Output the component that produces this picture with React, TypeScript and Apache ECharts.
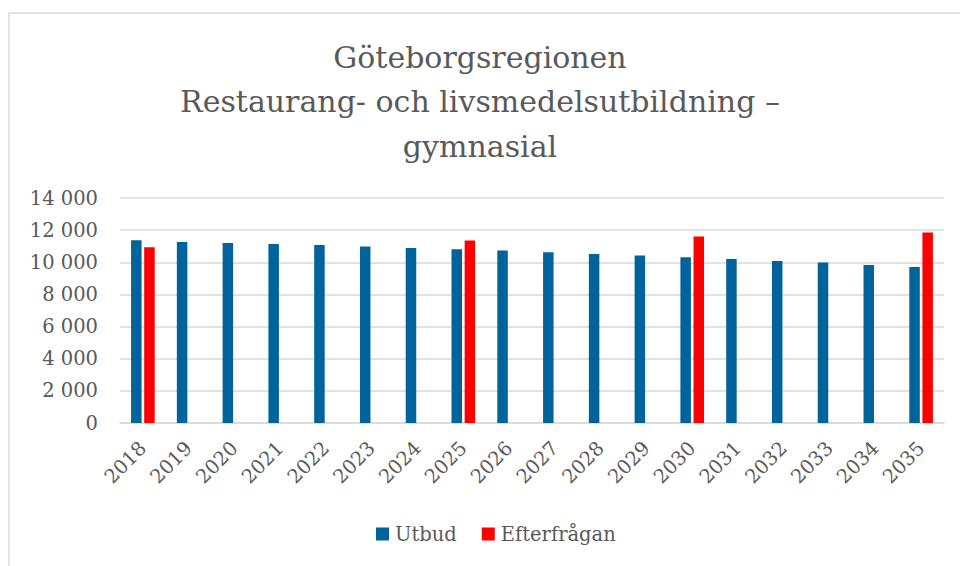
import React, { useEffect, useRef } from "react";
import * as echarts from "echarts";

const categories = ["2018","2019","2020","2021","2022","2023","2024","2025","2026","2027","2028","2029","2030","2031","2032","2033","2034","2035"];
const utbud = [11370,11260,11200,11140,11070,10990,10890,10810,10730,10620,10520,10420,10310,10200,10080,9980,9830,9710];
const efterfragan = [10930,null,null,null,null,null,null,11350,null,null,null,null,11610,null,null,null,null,11860];
const titleLines = ["Göteborgsregionen", "Restaurang- och livsmedelsutbildning –", "gymnasial"];

const FONT = "DejaVu Serif";

export default function App() {
  const ref = useRef<HTMLDivElement>(null);
  useEffect(() => {
    if (!ref.current) return;
    const chart = echarts.init(ref.current, undefined, { renderer: "svg" });
    chart.setOption({
      animation: false,
      backgroundColor: "#ffffff",
      graphic: [
        { type: "rect", shape: { x: 9, y: 13, width: 1000, height: 1000 }, style: { fill: "none", stroke: "#d9d9d9", lineWidth: 1.5 }, silent: true },
      ],
      title: {
        text: titleLines.join("\n"),
        left: "center",
        top: 30,
        textStyle: { fontFamily: FONT, fontSize: 30, fontWeight: "normal", color: "#595959", lineHeight: 44.5 },
      },
      legend: {
        bottom: 17,
        left: 371,
        itemWidth: 13,
        itemHeight: 13,
        itemGap: 25,
        icon: "rect",
        textStyle: { fontFamily: FONT, fontSize: 19.5, color: "#595959", padding: [0, 0, 0, 1] },
        data: ["Utbud", "Efterfrågan"],
      },
      grid: { left: 120, right: 16, top: 198, bottom: 143, containLabel: false },
      xAxis: {
        type: "category",
        data: categories,
        axisLine: { lineStyle: { color: "#d9d9d9", width: 1.5 } },
        axisTick: { show: false },
        axisLabel: { rotate: 45, fontFamily: FONT, fontSize: 19.5, color: "#595959", margin: 22, interval: 0 },
      },
      yAxis: {
        type: "value",
        min: 0,
        max: 14000,
        interval: 2000,
        axisLine: { show: false },
        axisTick: { show: false },
        splitLine: { lineStyle: { color: "#d9d9d9", width: 1.5 } },
        axisLabel: {
          fontFamily: FONT,
          fontSize: 19.5,
          color: "#595959",
          margin: 22,
          formatter: (v: number) => String(v).replace(/\B(?=(\d{3})+(?!\d))/g, " "),
        },
      },
      series: [
        { name: "Utbud", type: "bar", data: utbud, barWidth: 10.5, barGap: "25%", itemStyle: { color: "#00639b" } },
        { name: "Efterfrågan", type: "bar", data: efterfragan, barWidth: 10.5, barGap: "25%", itemStyle: { color: "#ff0000" } },
      ],
    });
    return () => chart.dispose();
  }, []);
  return <div ref={ref} style={{ position: "fixed", left: 0, top: 0, width: 960, height: 566 }} />;
}
